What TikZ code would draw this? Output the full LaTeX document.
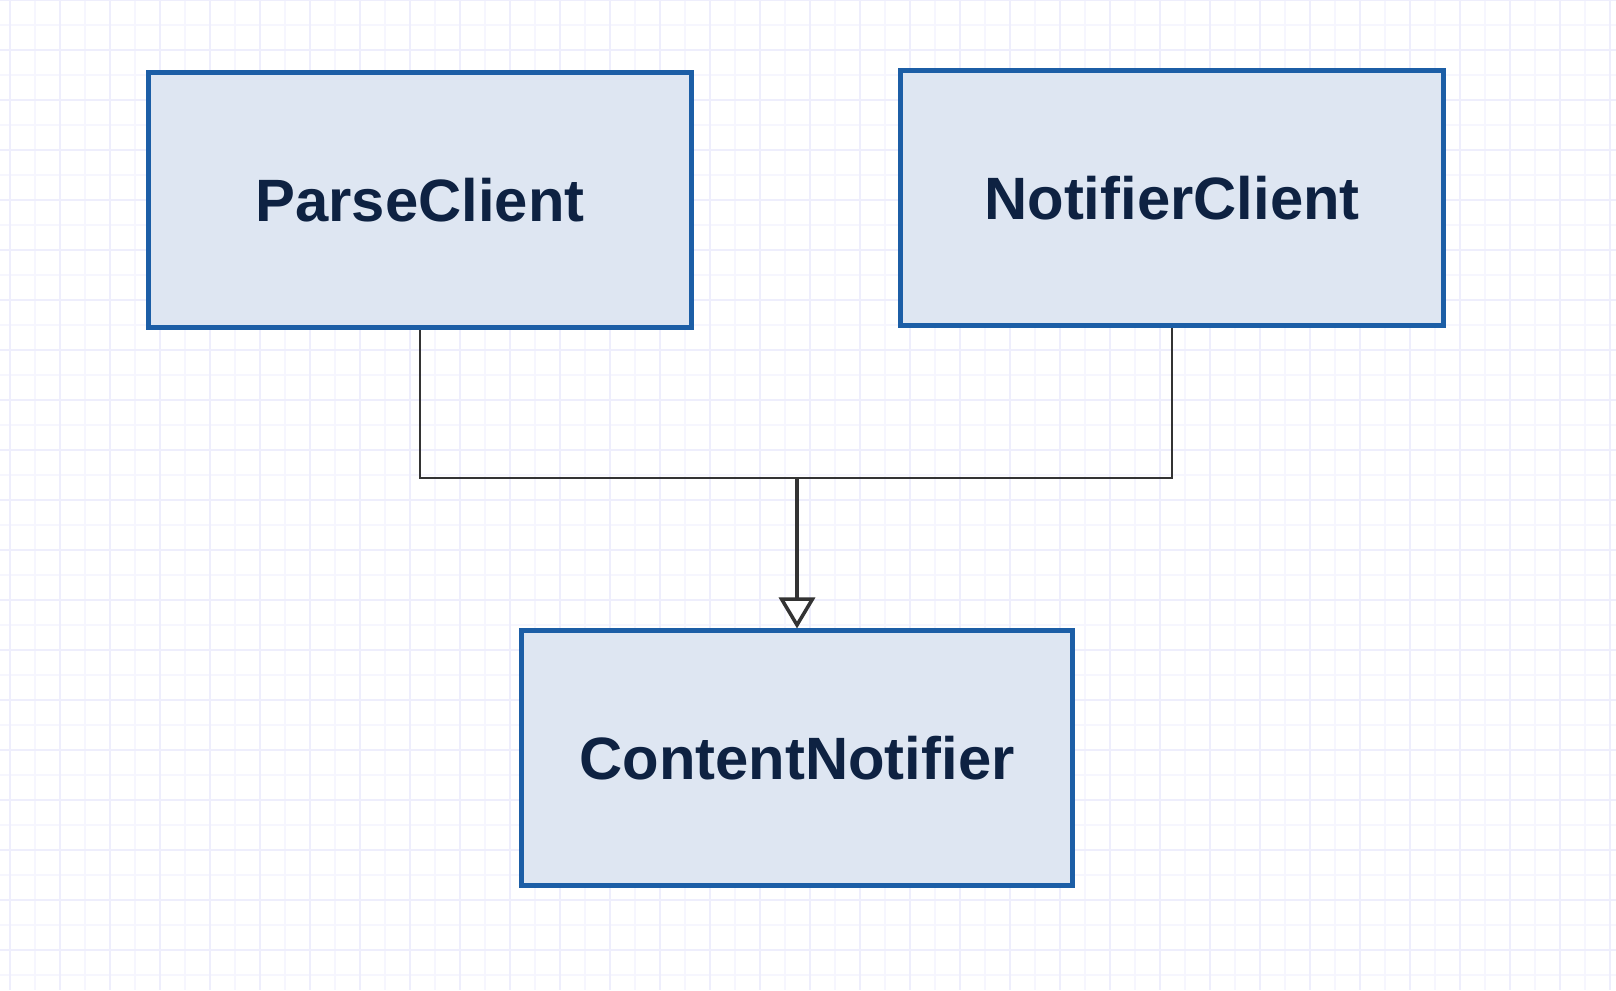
\documentclass[tikz,border=0pt]{standalone}
\usepackage{fontspec}
\setsansfont{Liberation Sans}
\usepackage{xcolor}
\usetikzlibrary{arrows.meta}

\definecolor{boxfill}{RGB}{222,230,242}
\definecolor{boxline}{RGB}{28,94,166}
\definecolor{boxtext}{RGB}{14,34,66}
\definecolor{gridlight}{RGB}{246,246,254}
\definecolor{griddark}{RGB}{238,238,252}

\tikzset{
  classbox/.style={draw=boxline, fill=boxfill, line width=1.4pt,
    minimum width=5.42cm, minimum height=2.55cm, inner sep=0pt,
    font=\sffamily\bfseries\fontsize{17}{20}\selectfont, text=boxtext},
  link/.style={draw=black!80, line width=0.8pt},
  inherit/.style={link, line width=1pt, -{Triangle[open, width=0.36cm, length=0.31cm]}}
}

\begin{document}
\begin{tikzpicture}[x=0.01cm, y=-0.01cm]
\fill[white] (0,0) rectangle (1616,990);
\useasboundingbox (0,0) rectangle (1616,990);
\foreach \x in {10,35,...,1610} \draw[gridlight, line width=0.5pt] (\x,0) -- (\x,990);
\foreach \y in {0,25,...,990} \draw[gridlight, line width=0.5pt] (0,\y) -- (1616,\y);
\foreach \x in {10,60,...,1610} \draw[griddark, line width=0.5pt] (\x,0) -- (\x,990);
\foreach \y in {0,50,...,990} \draw[griddark, line width=0.5pt] (0,\y) -- (1616,\y);

\node[classbox] (parse) at (420,200) {ParseClient};
\node[classbox] (notifier) at (1172,198) {NotifierClient};
\node[classbox, minimum width=5.51cm, minimum height=2.54cm] (content) at (797,758) {ContentNotifier};
\coordinate (join) at (797,478);

\draw[link] (parse.south) |- (join);
\draw[link] (notifier.south) |- (join);
\draw[inherit] (join) -- (content.north);
\end{tikzpicture}
\end{document}
